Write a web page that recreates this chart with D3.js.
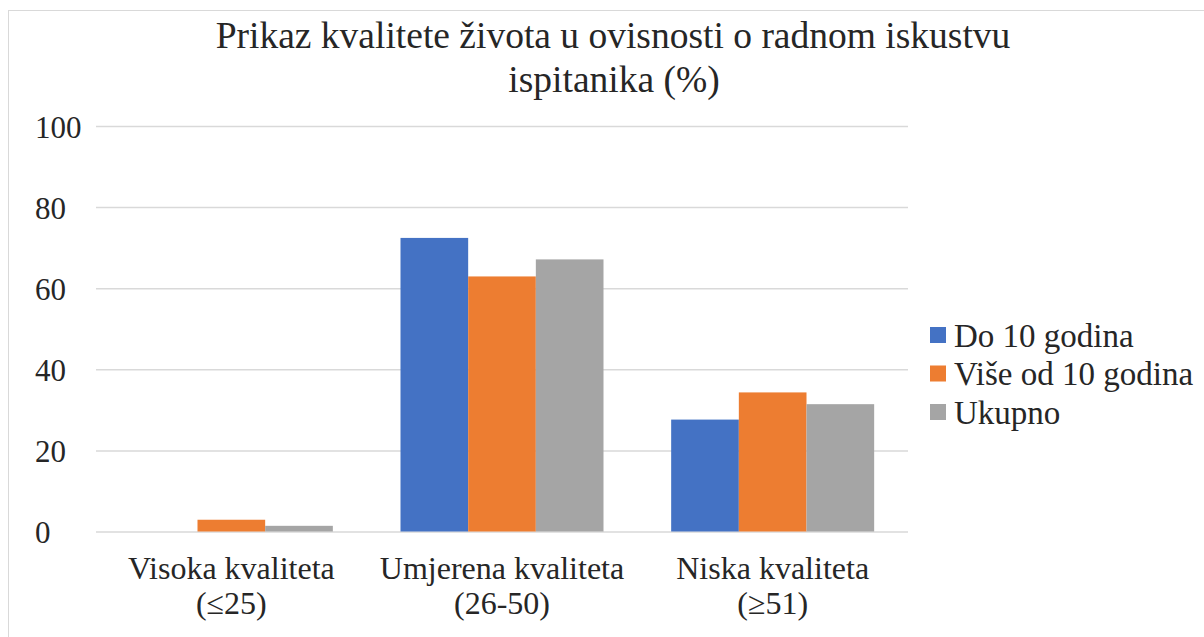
<!DOCTYPE html>
<html>
<head>
<meta charset="utf-8">
<script src="https://cdn.jsdelivr.net/npm/d3@7"></script>
<style>
  body { margin: 0; background: #fff; }
  text { font-family: "Liberation Serif", "Times New Roman", "DejaVu Serif", serif; fill: #262626; }
</style>
</head>
<body>
<svg id="chart" width="1204" height="637"></svg>
<script>
// data
var categories = ["Visoka kvaliteta|(≤25)", "Umjerena kvaliteta|(26-50)", "Niska kvaliteta|(≥51)"];
var seriesNames = ["Do 10 godina", "Više od 10 godina", "Ukupno"];
var doDeset = [0, 72.4, 27.6];
var viseOdDeset = [2.9, 62.9, 34.3];
var ukupno = [1.4, 67.1, 31.4];
var yTicks = [0, 20, 40, 60, 80, 100];

var seriesValues = [doDeset, viseOdDeset, ukupno];
var colors = ["#4472C4", "#ED7D31", "#A5A5A5"];

var svg = d3.select("#chart");

// outer frame
svg.append("rect")
    .attr("x", 8.5).attr("y", 10.5)
    .attr("width", 1220).attr("height", 660)
    .attr("fill", "none")
    .attr("stroke", "#d9d9d9")
    .attr("stroke-width", 1);

var plotLeft = 96, plotRight = 908, plotTop = 126, plotBottom = 531.5;

var x0 = d3.scaleBand()
    .domain(d3.range(categories.length))
    .range([plotLeft, plotRight])
    .paddingInner(0.25)
    .paddingOuter(0.125);

var x1 = d3.scaleBand()
    .domain(d3.range(seriesNames.length))
    .range([0, x0.bandwidth()]);

var y = d3.scaleLinear().domain([0, 100]).range([plotBottom, plotTop]);

// gridlines + y labels
var yAxis = svg.append("g")
    .attr("transform", "translate(" + plotLeft + ",0)")
    .call(d3.axisLeft(y).tickValues(yTicks).tickSize(-(plotRight - plotLeft)).tickPadding(0));
yAxis.attr("font-family", null);
yAxis.select(".domain").remove();
yAxis.selectAll("line").attr("stroke", "#d9d9d9").attr("stroke-width", 1.5);
yAxis.selectAll("text")
    .attr("text-anchor", "start")
    .attr("x", 35 - plotLeft)
    .attr("dy", "0.36em")
    .style("font-size", "31px");

// bars
var groups = svg.append("g").selectAll("g")
    .data(categories)
    .enter().append("g")
    .attr("transform", function(d, i) { return "translate(" + x0(i) + ",0)"; });

groups.selectAll("rect")
    .data(function(d, i) { return seriesValues.map(function(s, k) { return {k: k, v: s[i]}; }); })
    .enter().append("rect")
    .attr("x", function(d) { return x1(d.k); })
    .attr("y", function(d) { return y(d.v); })
    .attr("width", x1.bandwidth())
    .attr("height", function(d) { return y(0) - y(d.v); })
    .attr("fill", function(d) { return colors[d.k]; });

// x labels
var xAxis = svg.append("g")
    .attr("transform", "translate(0," + plotBottom + ")")
    .call(d3.axisBottom(x0).tickSize(0).tickFormat(""));
xAxis.attr("font-family", null);
xAxis.select(".domain").remove();
xAxis.selectAll(".tick").each(function(i) {
    var parts = categories[i].split("|");
    var t = d3.select(this).append("text")
        .attr("text-anchor", "middle")
        .style("font-size", "32px")
        .style("fill", "#262626");
    parts.forEach(function(p, j) {
        t.append("tspan").attr("x", 0).attr("y", 47 + j * 35).text(p);
    });
});

// title
var title = svg.append("text")
    .attr("text-anchor", "middle")
    .style("font-size", "37.5px");
title.append("tspan").attr("x", 613).attr("y", 48).text("Prikaz kvalitete života u ovisnosti o radnom iskustvu");
title.append("tspan").attr("x", 614).attr("y", 92).text("ispitanika (%)");

// legend
var legend = svg.append("g").selectAll("g")
    .data(seriesNames)
    .enter().append("g")
    .attr("transform", function(d, i) { return "translate(930," + (335 + i * 38.5) + ")"; });
legend.append("rect")
    .attr("x", 0).attr("y", -8)
    .attr("width", 16).attr("height", 16)
    .attr("fill", function(d, i) { return colors[i]; });
legend.append("text")
    .attr("x", 24).attr("dy", "0.36em")
    .style("font-size", "33px")
    .text(function(d) { return d; });
</script>
</body>
</html>
